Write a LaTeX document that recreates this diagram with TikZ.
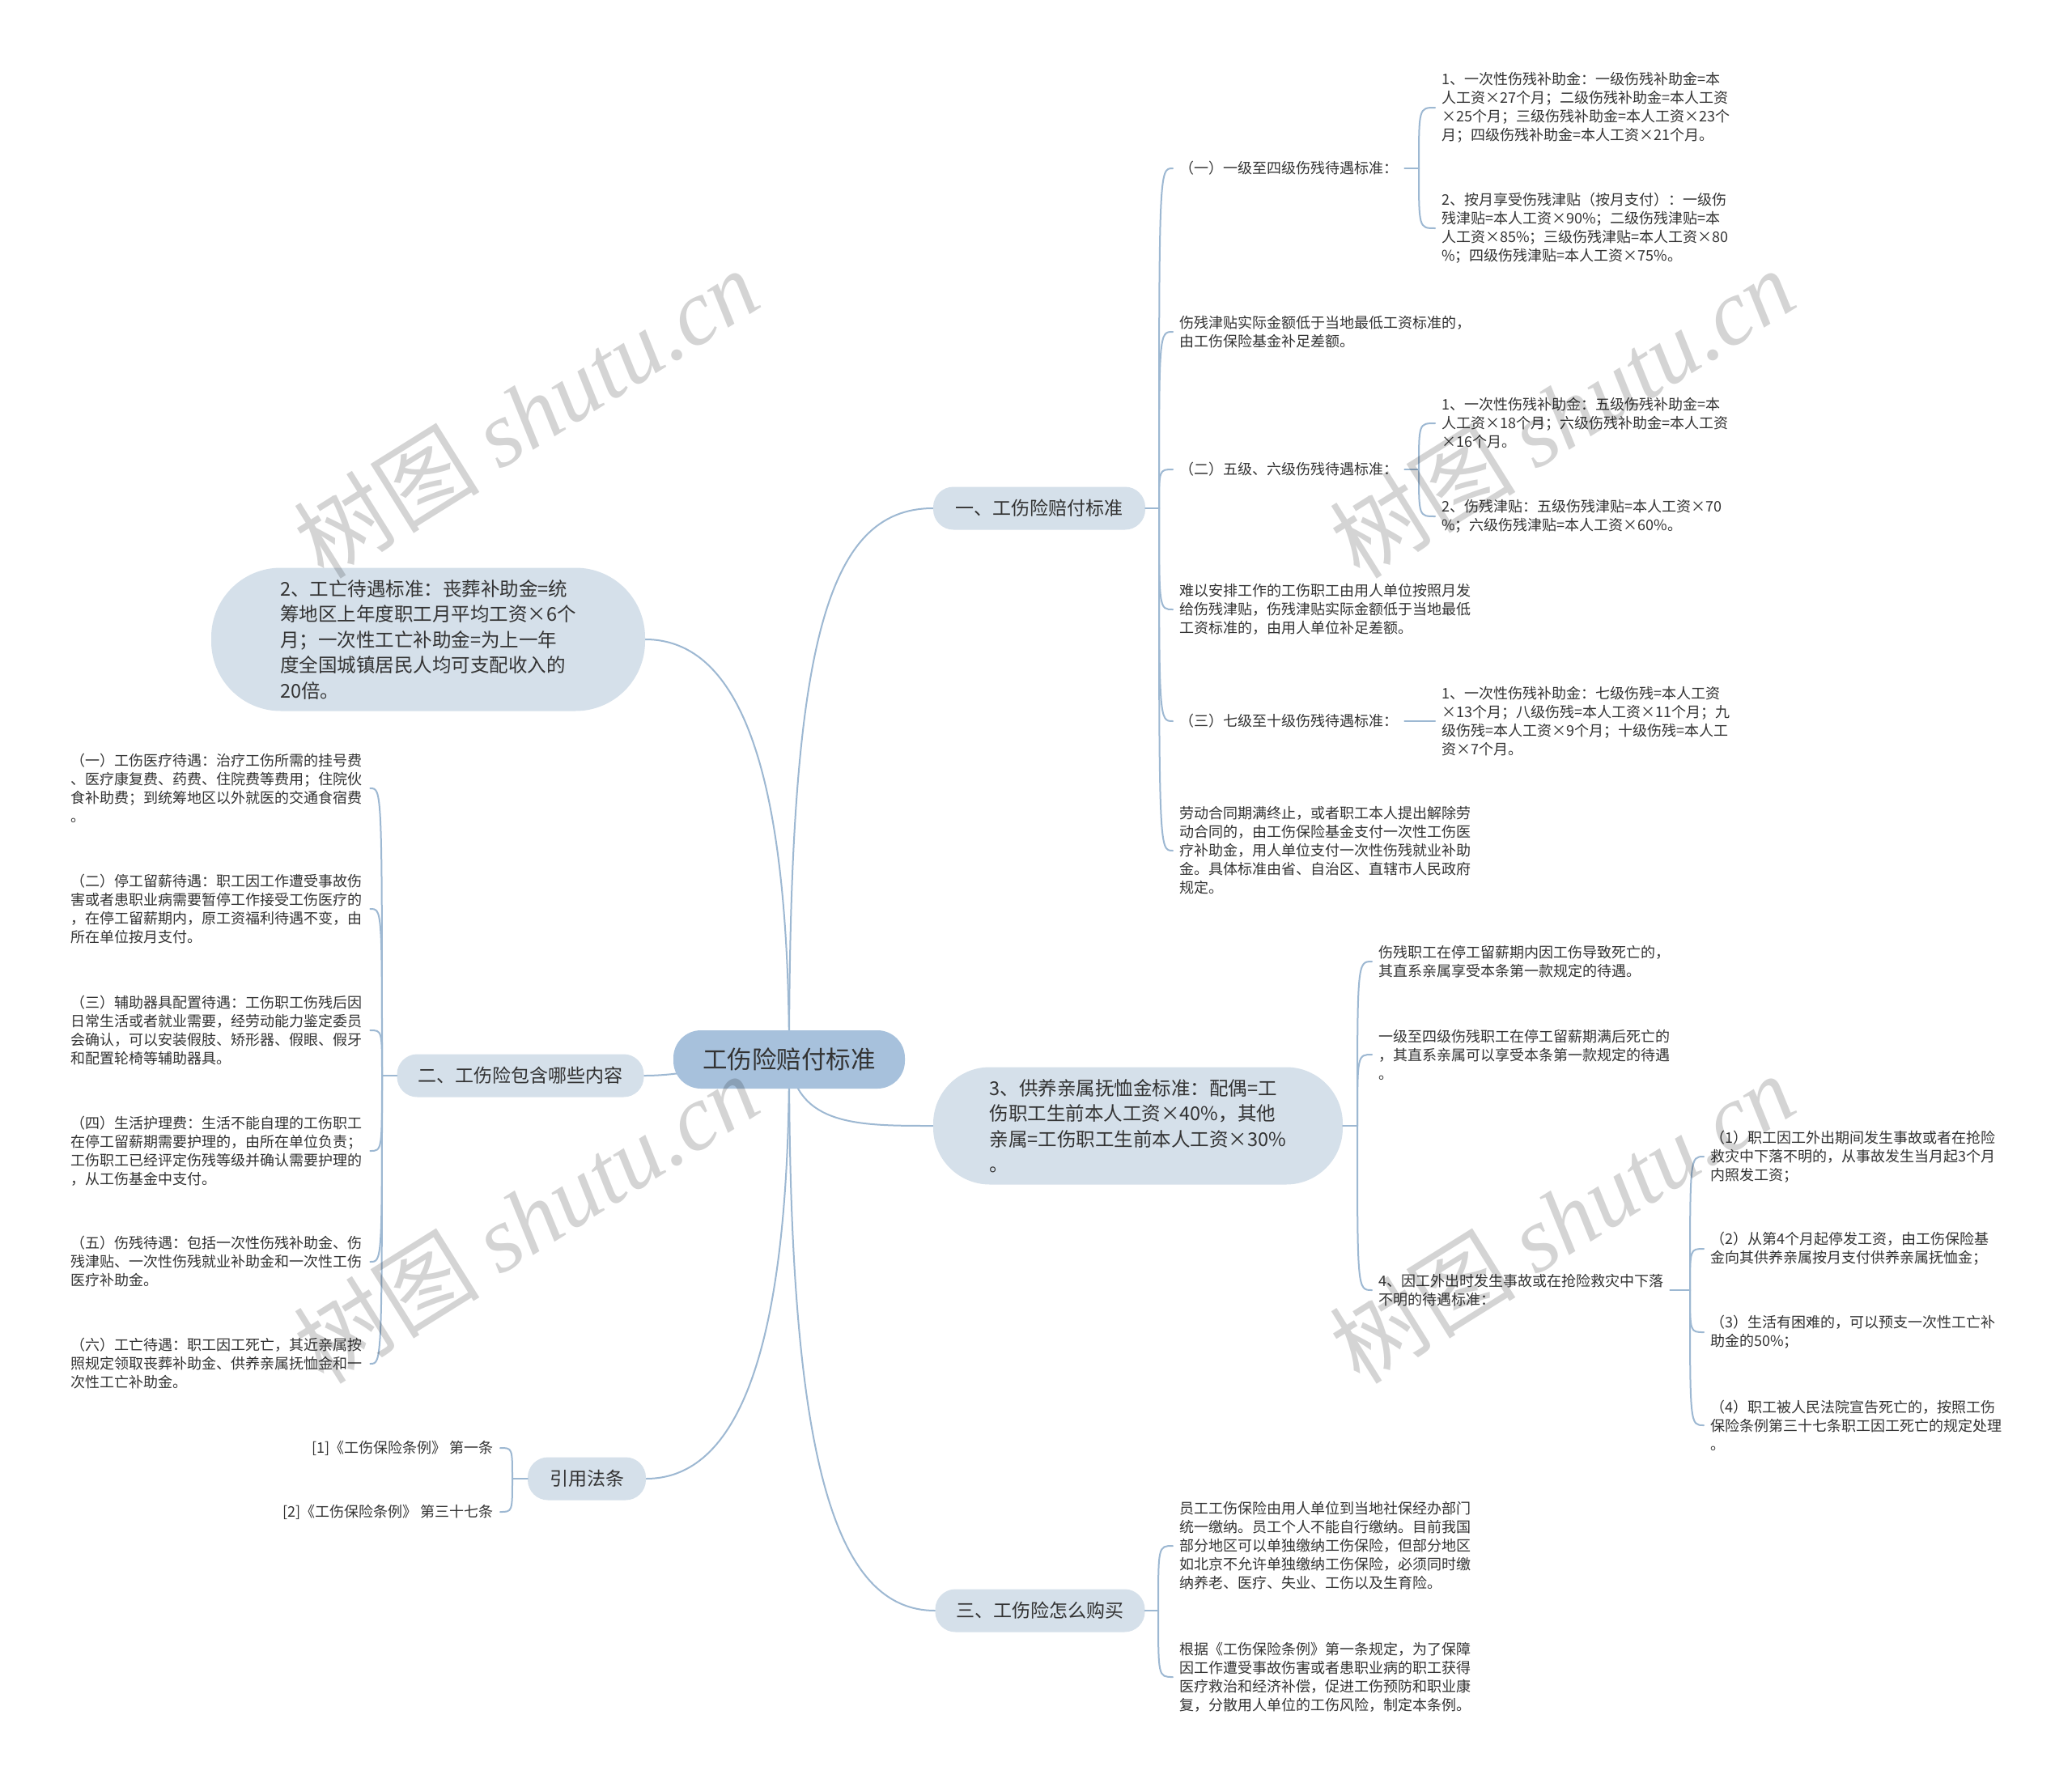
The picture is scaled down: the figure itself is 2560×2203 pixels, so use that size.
\documentclass[tikz,border=0pt]{standalone}
\usepackage{fontspec}
\setmainfont{Noto Sans CJK SC}
\newfontfamily\wmlatin{Liberation Serif}
\usetikzlibrary{backgrounds}
\definecolor{linec}{HTML}{9DB8D2}
\definecolor{rootfill}{HTML}{A7C1DC}
\definecolor{subfill}{HTML}{D5E0EA}
\definecolor{textc}{HTML}{333333}
\begin{document}
\begin{tikzpicture}[x=1pt,y=-1pt,
  conn/.style={draw=linec, line width=2pt, line cap=round},
  rootn/.style={fill=rootfill, rounded corners=34pt, minimum width=286pt, minimum height=72pt, inner sep=0pt, text=textc, font=\fontsize{30.5}{36}\selectfont},
  subn/.style={fill=subfill, rounded corners=25pt, minimum height=53pt, inner sep=0pt, text=textc, font=\fontsize{23}{28}\selectfont},
  bubble/.style={fill=subfill, inner sep=0pt, text=textc, align=left, font=\fontsize{23.5}{31.5}\selectfont},
  small/.style={font=\fontsize{18}{23}\selectfont, text=textc, align=left, inner xsep=8pt, inner ysep=0pt, anchor=west},
  lefttxt/.style={small, text width=362pt},
  reftxt/.style={font=\fontsize{18}{23}\selectfont, text=textc, inner xsep=8pt, inner ysep=0pt, anchor=east},
  wm/.style={text=black, text opacity=0.17, inner sep=0pt, font=\fontsize{115}{120}\selectfont}
]
\useasboundingbox (0,0) rectangle (2560,2203);

% ---------- main nodes ----------
\node[rootn] (root) at (975,1309) {工伤险赔付标准};
\node[subn, minimum width=262pt] (b1) at (1284,628) {一、工伤险赔付标准};
\node[bubble, minimum width=506pt, minimum height=145pt, rounded corners=70pt] (b3) at (1406,1391)
  {3、供养亲属抚恤金标准：配偶=工\\伤职工生前本人工资×40\%，其他\\亲属=工伤职工生前本人工资×30\%\\。};
\node[subn, minimum width=259pt] (b4) at (1285,1990) {三、工伤险怎么购买};
\node[bubble, minimum width=536pt, minimum height=177pt, rounded corners=86pt] (l1) at (529,790)
  {2、工亡待遇标准：丧葬补助金=统\\筹地区上年度职工月平均工资×6个\\月；一次性工亡补助金=为上一年\\度全国城镇居民人均可支配收入的\\20倍。};
\node[subn, minimum width=305pt] (l2) at (643,1329) {二、工伤险包含哪些内容};
\node[subn, minimum width=146pt] (l3) at (725,1827) {引用法条};

% ---------- branch 一 ----------
\node[small] (a1) at (1449,208) {（一）一级至四级伤残待遇标准：};
\node[small] (a2) at (1449,410) {伤残津贴实际金额低于当地最低工资标准的，\\由工伤保险基金补足差额。};
\node[small] (a3) at (1449,580) {（二）五级、六级伤残待遇标准：};
\node[small] (a4) at (1449,753) {难以安排工作的工伤职工由用人单位按照月发\\给伤残津贴，伤残津贴实际金额低于当地最低\\工资标准的，由用人单位补足差额。};
\node[small] (a5) at (1449,891) {（三）七级至十级伤残待遇标准：};
\node[small] (a6) at (1449,1051) {劳动合同期满终止，或者职工本人提出解除劳\\动合同的，由工伤保险基金支付一次性工伤医\\疗补助金，用人单位支付一次性伤残就业补助\\金。具体标准由省、自治区、直辖市人民政府\\规定。};

\node[small] (g11) at (1773,133) {1、一次性伤残补助金：一级伤残补助金=本\\人工资×27个月；二级伤残补助金=本人工资\\×25个月；三级伤残补助金=本人工资×23个\\月；四级伤残补助金=本人工资×21个月。};
\node[small] (g12) at (1773,282) {2、按月享受伤残津贴（按月支付）：一级伤\\残津贴=本人工资×90\%；二级伤残津贴=本\\人工资×85\%；三级伤残津贴=本人工资×80\\\%；四级伤残津贴=本人工资×75\%。};
\node[small] (g31) at (1773,523) {1、一次性伤残补助金：五级伤残补助金=本\\人工资×18个月；六级伤残补助金=本人工资\\×16个月。};
\node[small] (g32) at (1773,638) {2、伤残津贴：五级伤残津贴=本人工资×70\\\%；六级伤残津贴=本人工资×60\%。};
\node[small] (g51) at (1773,891) {1、一次性伤残补助金：七级伤残=本人工资\\×13个月；八级伤残=本人工资×11个月；九\\级伤残=本人工资×9个月；十级伤残=本人工\\资×7个月。};

% ---------- branch 3 ----------
\node[small] (c1) at (1695,1188) {伤残职工在停工留薪期内因工伤导致死亡的，\\其直系亲属享受本条第一款规定的待遇。};
\node[small] (c2) at (1695,1303) {一级至四级伤残职工在停工留薪期满后死亡的\\，其直系亲属可以享受本条第一款规定的待遇\\。};
\node[small] (c3) at (1695,1594) {4、因工外出时发生事故或在抢险救灾中下落\\不明的待遇标准：};
\node[small] (h1) at (2105,1429) {（1）职工因工外出期间发生事故或者在抢险\\救灾中下落不明的，从事故发生当月起3个月\\内照发工资；};
\node[small] (h2) at (2105,1543) {（2）从第4个月起停发工资，由工伤保险基\\金向其供养亲属按月支付供养亲属抚恤金；};
\node[small] (h3) at (2105,1646) {（3）生活有困难的，可以预支一次性工亡补\\助金的50\%；};
\node[small] (h4) at (2105,1761) {（4）职工被人民法院宣告死亡的，按照工伤\\保险条例第三十七条职工因工死亡的规定处理\\。};

% ---------- branch 三 ----------
\node[small] (d1) at (1449,1910) {员工工伤保险由用人单位到当地社保经办部门\\统一缴纳。员工个人不能自行缴纳。目前我国\\部分地区可以单独缴纳工伤保险，但部分地区\\如北京不允许单独缴纳工伤保险，必须同时缴\\纳养老、医疗、失业、工伤以及生育险。};
\node[small] (d2) at (1449,2072) {根据《工伤保险条例》第一条规定，为了保障\\因工作遭受事故伤害或者患职业病的职工获得\\医疗救治和经济补偿，促进工伤预防和职业康\\复，分散用人单位的工伤风险，制定本条例。};

% ---------- branch 二 ----------
\node[lefttxt] (e1) at (79,974) {（一）工伤医疗待遇：治疗工伤所需的挂号费\\、医疗康复费、药费、住院费等费用；住院伙\\食补助费；到统筹地区以外就医的交通食宿费\\。};
\node[lefttxt] (e2) at (79,1123) {（二）停工留薪待遇：职工因工作遭受事故伤\\害或者患职业病需要暂停工作接受工伤医疗的\\，在停工留薪期内，原工资福利待遇不变，由\\所在单位按月支付。};
\node[lefttxt] (e3) at (79,1273) {（三）辅助器具配置待遇：工伤职工伤残后因\\日常生活或者就业需要，经劳动能力鉴定委员\\会确认，可以安装假肢、矫形器、假眼、假牙\\和配置轮椅等辅助器具。};
\node[lefttxt] (e4) at (79,1422) {（四）生活护理费：生活不能自理的工伤职工\\在停工留薪期需要护理的，由所在单位负责；\\工伤职工已经评定伤残等级并确认需要护理的\\，从工伤基金中支付。};
\node[lefttxt] (e5) at (79,1559) {（五）伤残待遇：包括一次性伤残补助金、伤\\残津贴、一次性伤残就业补助金和一次性工伤\\医疗补助金。};
\node[lefttxt] (e6) at (79,1685) {（六）工亡待遇：职工因工死亡，其近亲属按\\照规定领取丧葬补助金、供养亲属抚恤金和一\\次性工亡补助金。};

% ---------- 引用法条 ----------
\node[reftxt] (f1) at (618,1789) {[1]《工伤保险条例》 第一条};
\node[reftxt] (f2) at (618,1868) {[2]《工伤保险条例》 第三十七条};

% ---------- connectors ----------
\begin{scope}[on background layer]
\fill[white] (0,0) rectangle (2560,2203);
\draw[conn] (root.center) .. controls (975,800) and (1020,628) .. (b1.west);
\draw[conn] (root.center) .. controls (975,1000) and (930,790) .. (l1.east);
\draw[conn] (root.center) .. controls (900,1309) and (860,1329) .. (l2.east);
\draw[conn] (root.center) .. controls (975,1700) and (900,1827) .. (l3.east);
\draw[conn] (root.center) .. controls (985,1391) and (1060,1391) .. (b3.west);
\draw[conn] (root.center) .. controls (975,1800) and (1030,1990) .. (b4.west);
\end{scope}

\draw[conn] (b1.east) -- (1432,628) coordinate (t1);
\foreach \n in {a1,a2,a3,a4,a5,a6}
  \draw[conn] (t1) .. controls (t1 |- \n.west) .. (\n.west);
\draw[conn] (a1.east) -- (1753,208) coordinate (k1);
\foreach \n in {g11,g12}
  \draw[conn] (k1) .. controls (k1 |- \n.west) .. (\n.west);
\draw[conn] (a3.east) -- (1753,580) coordinate (k3);
\foreach \n in {g31,g32}
  \draw[conn] (k3) .. controls (k3 |- \n.west) .. (\n.west);
\draw[conn] (a5.east) -- (g51.west);

\draw[conn] (b3.east) -- (1677,1391) coordinate (t3);
\foreach \n in {c1,c2,c3}
  \draw[conn] (t3) .. controls (t3 |- \n.west) .. (\n.west);
\draw[conn] (c3.east) -- (2088,1594) coordinate (kc);
\foreach \n in {h1,h2,h3,h4}
  \draw[conn] (kc) .. controls (kc |- \n.west) .. (\n.west);

\draw[conn] (b4.east) -- (1431,1990) coordinate (t4);
\foreach \n in {d1,d2}
  \draw[conn] (t4) .. controls (t4 |- \n.west) .. (\n.west);

\draw[conn] (l2.west) -- (472,1329) coordinate (t2);
\foreach \n in {e1,e2,e3,e4,e5,e6}
  \draw[conn] (t2) .. controls (t2 |- \n.east) .. (\n.east);

\draw[conn] (l3.west) -- (633,1827) coordinate (t5);
\foreach \n in {f1,f2}
  \draw[conn] (t5) .. controls (t5 |- \n.east) .. (\n.east);

% ---------- watermarks ----------
\node[wm, rotate=32] (w1) at (650,510) {树图 {\wmlatin\itshape shutu.cn}};
\node[wm, rotate=32] (w2) at (1930,510) {树图 {\wmlatin\itshape shutu.cn}};
\node[wm, rotate=32] (w3) at (650,1505) {树图 {\wmlatin\itshape shutu.cn}};
\node[wm, rotate=32] (w4) at (1930,1505) {树图 {\wmlatin\itshape shutu.cn}};
\end{tikzpicture}
\end{document}
